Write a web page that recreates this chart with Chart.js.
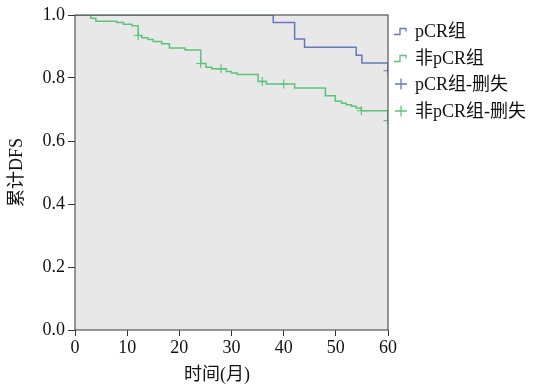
<!DOCTYPE html>
<html>
<head>
<meta charset="utf-8">
<script src="https://cdn.jsdelivr.net/npm/chart.js@4/dist/chart.umd.min.js"></script>
<style>
    body { margin: 0; background: #fff; }
    #wrap { position: relative; width: 538px; height: 387px; }
    #legend { position: absolute; left: 394px; top: 18px; font-family: "Liberation Serif", "Noto Sans CJK SC", serif; font-size: 18px; color: #111; }
    .leg-item { height: 26.5px; line-height: 26.5px; white-space: nowrap; display: flex; align-items: center; }
    .leg-item svg { margin-right: 6px; }
</style>
</head>
<body>
<div id="wrap">
    <canvas id="km" width="538" height="387"></canvas>
    <div id="legend"></div>
</div>
<script>
const colors = {
    pcr: '#6677bf',
    nonPcr: '#5cc47a',
    plotBg: '#e8e8e8',
    frame: '#555555',
    text: '#111111'
};

const fontFamily = '"Liberation Serif", "Noto Sans CJK SC", serif';

// pCR组
const pcrMonths = [0, 38.0, 42.1, 44.0, 53.9, 55.0, 60];
const pcrSurv = [1.0, 0.976, 0.924, 0.898, 0.872, 0.848, 0.823];
const pcrCensorMonths = [60];
const pcrCensorSurv = [0.823];

// 非pCR组
const nonMonths = [0, 3.0, 4.0, 8.0, 9.3, 10.9, 12.1, 12.8, 14.0, 15.0, 16.6, 18.1, 21.1, 24.1, 25.1, 26.2, 29.0, 30.0, 31.1, 35.1, 36.7, 42.1, 48.0, 49.9, 51.1, 52.0, 53.0, 53.9, 54.9, 60];
const nonSurv = [1.0, 0.99, 0.98, 0.976, 0.971, 0.966, 0.935, 0.928, 0.922, 0.916, 0.909, 0.895, 0.889, 0.846, 0.834, 0.829, 0.821, 0.816, 0.811, 0.789, 0.781, 0.768, 0.744, 0.726, 0.720, 0.715, 0.710, 0.704, 0.696, 0.665];
const nonCensorMonths = [12.1, 24.1, 28.0, 35.9, 40.0, 54.9, 60];
const nonCensorSurv = [0.935, 0.846, 0.829, 0.789, 0.781, 0.696, 0.665];

const xTicks = [0, 10, 20, 30, 40, 50, 60];
const yTicks = [0, 0.2, 0.4, 0.6, 0.8, 1.0];

const toPoints = (xs, ys) => xs.map((x, i) => ({ x: x, y: ys[i] }));

// fondo gris y marco del área de trazado
const plotFrame = {
    id: 'plotFrame',
    beforeDatasetsDraw(chart) {
        const { ctx, chartArea: a } = chart;
        ctx.save();
        ctx.fillStyle = colors.plotBg;
        ctx.fillRect(a.left, a.top, a.right - a.left, a.bottom - a.top);
        ctx.restore();
    },
    afterDraw(chart) {
        const { ctx, chartArea: a } = chart;
        ctx.save();
        ctx.strokeStyle = colors.frame;
        ctx.lineWidth = 1.2;
        ctx.strokeRect(a.left, a.top, a.right - a.left, a.bottom - a.top);
        ctx.fillStyle = colors.text;
        ctx.font = '18px ' + fontFamily;
        ctx.textAlign = 'center';
        ctx.textBaseline = 'middle';
        ctx.fillText('时间(月)', 217, 375);
        ctx.restore();
    }
};

const chart = new Chart(document.getElementById('km'), {
    type: 'line',
    data: {
        datasets: [
            {
                label: 'pCR组', kind: 'step',
                data: toPoints(pcrMonths, pcrSurv),
                borderColor: colors.pcr, borderWidth: 1.5,
                stepped: 'before', pointRadius: 0, fill: false
            },
            {
                label: '非pCR组', kind: 'step',
                data: toPoints(nonMonths, nonSurv),
                borderColor: colors.nonPcr, borderWidth: 1.5,
                stepped: 'before', pointRadius: 0, fill: false
            },
            {
                label: 'pCR组-删失', kind: 'cross',
                data: toPoints(pcrCensorMonths, pcrCensorSurv),
                showLine: false, pointStyle: 'cross', pointRadius: 4.5,
                borderColor: colors.pcr, pointBorderWidth: 1.2
            },
            {
                label: '非pCR组-删失', kind: 'cross',
                data: toPoints(nonCensorMonths, nonCensorSurv),
                showLine: false, pointStyle: 'cross', pointRadius: 4.5,
                borderColor: colors.nonPcr, pointBorderWidth: 1.2
            }
        ]
    },
    options: {
        responsive: false,
        animation: false,
        layout: { padding: { left: 0, right: 150, top: 15, bottom: 0 } },
        plugins: { legend: { display: false }, tooltip: { enabled: false } },
        scales: {
            x: {
                type: 'linear', min: 0, max: 60,
                afterFit: s => { s.height = 57; },
                afterBuildTicks: s => { s.ticks = xTicks.map(v => ({ value: v })); },
                grid: { drawOnChartArea: false, drawTicks: true, tickLength: 6, color: '#333' },
                border: { display: false },
                ticks: { color: colors.text, padding: 1, maxRotation: 0, font: { family: fontFamily, size: 18 } }
            },
            y: {
                type: 'linear', min: 0, max: 1,
                afterFit: s => { s.width = 75; },
                afterBuildTicks: s => { s.ticks = yTicks.map(v => ({ value: v })); },
                grid: { drawOnChartArea: false, drawTicks: true, tickLength: 7, color: '#333' },
                border: { display: false },
                ticks: { color: colors.text, padding: 3, font: { family: fontFamily, size: 18 }, callback: v => v.toFixed(1) },
                title: { display: true, text: '累计DFS', color: colors.text, padding: { top: 6 }, font: { family: fontFamily, size: 18 } }
            }
        }
    },
    plugins: [plotFrame]
});

function buildLegend() {
    const box = document.getElementById('legend');
    chart.data.datasets.forEach(ds => {
        const item = document.createElement('div');
        item.className = 'leg-item';
        const icon = ds.kind === 'step'
            ? `<svg width="15" height="10"><path d="M0 8.5 H6 V2.5 H12 V5.5" fill="none" stroke="${ds.borderColor}" stroke-width="1.3"/></svg>`
            : `<svg width="15" height="12"><path d="M1 6 H13 M7 0.5 V11.5" fill="none" stroke="${ds.borderColor}" stroke-width="1.3"/></svg>`;
        item.innerHTML = icon + `<span>${ds.label}</span>`;
        box.appendChild(item);
    });
}

buildLegend();
</script>
</body>
</html>
